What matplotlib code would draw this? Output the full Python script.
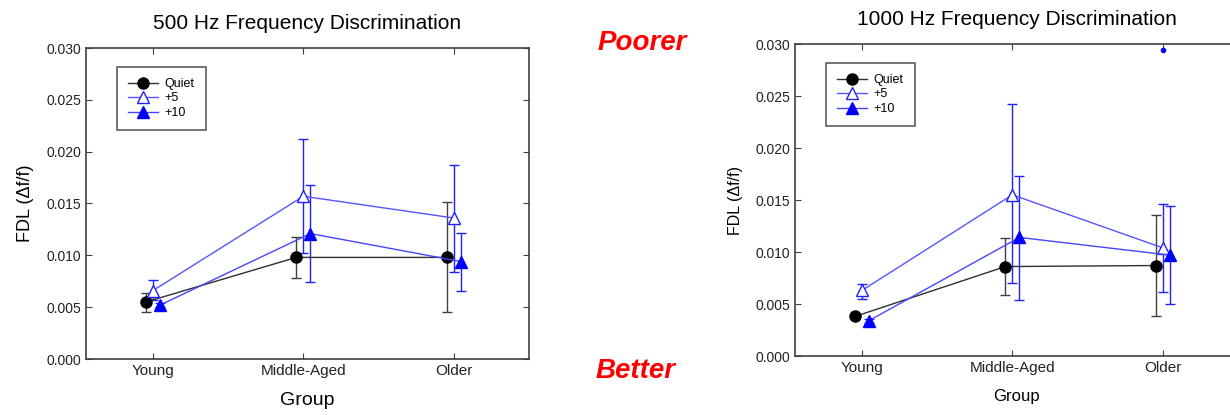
import numpy as np
import matplotlib
matplotlib.use("Agg")
import matplotlib.pyplot as plt
from matplotlib.lines import Line2D

plt.rcParams['font.family'] = ['Liberation Sans', 'DejaVu Sans']

groups = ['Young', 'Middle-Aged', 'Older']
conds = ['Quiet', '+5', '+10']

# 500 Hz: means, lower and upper error bar ends
m500_quiet = [0.0055, 0.0098, 0.0098]
lo500_quiet = [0.0045, 0.0078, 0.0045]
hi500_quiet = [0.0064, 0.0118, 0.0151]
m500_p5 = [0.0066, 0.0157, 0.0136]
lo500_p5 = [0.0057, 0.0102, 0.0084]
hi500_p5 = [0.0076, 0.0212, 0.0187]
m500_p10 = [0.0052, 0.0121, 0.0094]
lo500_p10 = [0.0050, 0.0074, 0.0066]
hi500_p10 = [0.0054, 0.0168, 0.0122]

# 1000 Hz
m1k_quiet = [0.0038, 0.0086, 0.0087]
lo1k_quiet = [0.0036, 0.0059, 0.0038]
hi1k_quiet = [0.0040, 0.0113, 0.0136]
m1k_p5 = [0.0063, 0.0155, 0.0104]
lo1k_p5 = [0.0055, 0.0070, 0.0062]
hi1k_p5 = [0.0069, 0.0242, 0.0146]
m1k_p10 = [0.0034, 0.0114, 0.0097]
lo1k_p10 = [0.0032, 0.0054, 0.0050]
hi1k_p10 = [0.0036, 0.0173, 0.0144]
outlier_1k_p5 = [0.0294]  # Older, +5

styles = [
    dict(color='#303030', ecolor='#404040', marker='o', mfc='black', mec='black', ms=8),
    dict(color='#5555ff', ecolor='#2020ff', marker='^', mfc='white', mec='#2020ff', ms=8),
    dict(color='#4646ff', ecolor='#2020ff', marker='^', mfc='#0000ff', mec='#0000ff', ms=8),
]

def draw(ax, data, title, lsize, xlsize):
    x = np.arange(1, 4)
    offs = [-0.047, 0.0, 0.047]
    handles = []
    for (m, lo, hi), lab, off, st in zip(data, conds, offs, styles):
        m = np.array(m); lo = np.array(lo); hi = np.array(hi)
        ax.errorbar(x + off, m, yerr=[m - lo, hi - m], lw=1.0,
                    elinewidth=1.0, capsize=3.5, capthick=1.0, **st)
        h = Line2D([], [], color=st['color'], lw=1.0, marker=st['marker'],
                   mfc=st['mfc'], mec=st['mec'], ms=8)
        handles.append(h)
    ax.set_xlim(0.555, 3.5)
    ax.set_ylim(0, 0.030)
    ax.set_xticks(x)
    ax.set_xticklabels(groups, fontsize=11)
    ax.set_yticks(np.arange(0, 0.031, 0.005))
    ax.set_yticklabels(['%.3f' % v for v in np.arange(0, 0.031, 0.005)], fontsize=10)
    ax.tick_params(direction='in', top=True, right=True, length=4, color='#404040',
                   labelcolor='#222222')
    for s in ax.spines.values():
        s.set_color('#404040')
        s.set_linewidth(1.2)
    ax.set_title(title, fontsize=15, pad=14)
    ax.set_xlabel('Group', fontsize=xlsize, labelpad=10)
    ax.set_ylabel('FDL (\u0394f/f)', fontsize=lsize, labelpad=9)
    leg = ax.legend(handles, conds, loc='upper left', bbox_to_anchor=(0.07, 0.94),
                    fontsize=9, frameon=True, fancybox=False, handlelength=2.4,
                    labelspacing=0.2, borderpad=0.9, handletextpad=0.5, borderaxespad=0)
    leg.get_frame().set_edgecolor('#333333')
    leg.get_frame().set_linewidth(1.2)

fig = plt.figure(figsize=(12.3, 4.15), dpi=100)
ax1 = fig.add_axes([86/1230, 56/415, 443/1230, 311/415])
ax2 = fig.add_axes([795/1230, 59/415, 443/1230, 312/415])

draw(ax1, [(m500_quiet, lo500_quiet, hi500_quiet), (m500_p5, lo500_p5, hi500_p5),
           (m500_p10, lo500_p10, hi500_p10)], '500 Hz Frequency Discrimination', 13, 14)
draw(ax2, [(m1k_quiet, lo1k_quiet, hi1k_quiet), (m1k_p5, lo1k_p5, hi1k_p5),
           (m1k_p10, lo1k_p10, hi1k_p10)], '1000 Hz Frequency Discrimination', 11.5, 12)
ax2.plot([3], outlier_1k_p5, 'o', color='#0000ff', ms=3)

fig.text(642/1230, 1 - 43/415, 'Poorer', color='red', fontsize=20, fontweight='bold',
         fontstyle='italic', ha='center', va='center')
fig.text(636/1230, 1 - 371/415, 'Better', color='red', fontsize=20, fontweight='bold',
         fontstyle='italic', ha='center', va='center')

fig.savefig('out.png', dpi=100)
